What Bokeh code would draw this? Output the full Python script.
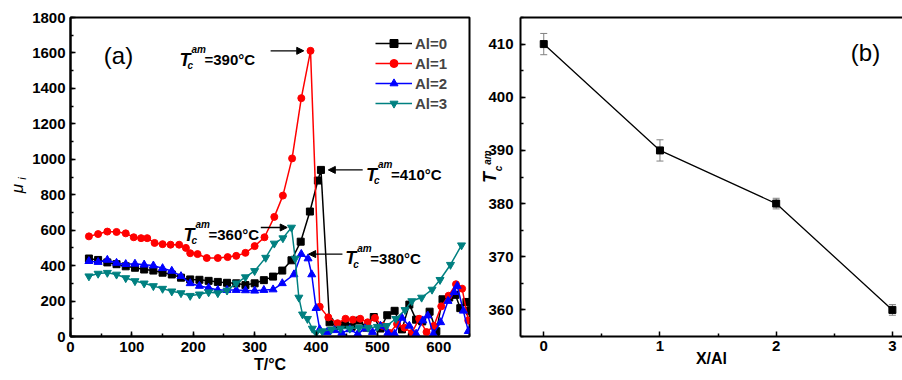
import numpy as np
from bokeh.plotting import figure
from bokeh.models import (Range1d, SingleIntervalTicker, FixedTicker, LinearAxis, Label,
                          Arrow, NormalHead, TeeHead, Whisker, ColumnDataSource, Legend, LegendItem)
from bokeh.layouts import row
from bokeh.embed import file_html
from bokeh.resources import INLINE

FONT = "Liberation Sans"

# ---------------- Panel (a): permeability vs temperature ----------------
t_al0 = [30, 45, 60, 75, 90, 105, 120, 135, 150, 165, 180, 195, 210, 225, 240, 255, 270, 285,
         300, 315, 330, 345, 360, 375, 390, 403, 408, 422, 435, 447, 458, 470, 482, 494, 505,
         516, 528, 540, 552, 563, 573, 585, 596, 606, 617, 627, 635, 645, 650]
mu_al0 = [440, 432, 418, 408, 396, 388, 378, 372, 360, 350, 332, 322, 320, 314, 308, 303, 300, 290,
          300, 318, 338, 372, 430, 535, 705, 880, 940, 80, 60, 65, 55, 90, 50, 110, 45,
          120, 145, 40, 180, 95, 85, 140, 30, 210, 220, 235, 160, 195, 145]

t_al1 = [30, 45, 60, 75, 90, 103, 115, 125, 137, 150, 163, 177, 188, 195, 207, 222, 240, 256,
         270, 285, 300, 316, 332, 346, 361, 376, 391, 406, 420, 435, 448, 460, 472, 484, 496,
         508, 520, 532, 544, 556, 568, 580, 592, 604, 616, 628, 638, 648]
mu_al1 = [565, 578, 592, 590, 582, 560, 555, 555, 528, 521, 518, 518, 500, 470, 465, 443, 443, 448,
          455, 472, 510, 560, 675, 795, 1005, 1345, 1612, 168, 108, 75, 100, 95, 100, 80, 105,
          60, 20, 70, 50, 20, 100, 25, 60, 170, 230, 295, 270, 90]

t_al2 = [30, 45, 60, 75, 90, 105, 120, 135, 150, 165, 180, 195, 210, 225, 240, 255, 270, 285,
         300, 315, 330, 345, 364, 376, 387, 393, 400, 406, 418, 430, 442, 455, 468, 480, 492,
         505, 517, 528, 540, 552, 563, 574, 582, 591, 603, 615, 625, 630, 640, 648]
mu_al2 = [425, 420, 432, 415, 408, 410, 405, 400, 385, 370, 340, 300, 285, 275, 262, 262, 262, 260,
          258, 262, 265, 300, 350, 465, 440, 350, 160, 40, 25, 35, 20, 40, 15, 45, 25,
          60, 20, 15, 105, 60, 15, 90, 118, 15, 80, 200, 250, 285, 145, 30]

t_al3 = [30, 45, 60, 75, 90, 105, 120, 135, 150, 165, 180, 195, 210, 225, 240, 255, 270, 285,
         300, 318, 332, 346, 360, 366, 372, 378, 386, 394, 400, 410, 425, 440, 455, 470, 485,
         500, 515, 530, 545, 556, 572, 589, 602, 619, 637]
mu_al3 = [340, 355, 360, 350, 330, 313, 300, 285, 270, 255, 245, 230, 238, 250, 245, 260, 300, 335,
          370, 445, 525, 555, 615, 440, 220, 125, 100, 45, 20, 30, 40, 45, 45, 50, 50,
          55, 60, 100, 150, 200, 220, 265, 320, 405, 515]

series_labels = ["Al=0", "Al=1", "Al=2", "Al=3"]
series_colors = ["#000000", "#ff0000", "#0000ff", "#008080"]
series_markers = ["square", "circle", "triangle", "inverted_triangle"]
series_sizes = [7, 7, 8, 8]
series_t = [t_al0, t_al1, t_al2, t_al3]
series_mu = [mu_al0, mu_al1, mu_al2, mu_al3]
tc_values = [410, 390, 380, 360]

# ---------------- Panel (b): Tc vs Al ----------------
x_al = [0, 1, 2, 3]
tc_am = [410, 390, 380, 360]
tc_err = [2, 2, 1, 1]


def style_axis(ax, standoff=3, size="15px"):
    ax.axis_line_width = 2
    ax.axis_line_color = "black"
    ax.major_tick_in = 5
    ax.major_tick_out = 0
    ax.minor_tick_in = 3
    ax.minor_tick_out = 0
    ax.major_tick_line_width = 1.5
    ax.minor_tick_line_width = 1.5
    ax.major_tick_line_color = "black"
    ax.minor_tick_line_color = "black"
    ax.major_label_text_font = FONT
    ax.major_label_text_font_style = "bold"
    ax.major_label_text_font_size = size
    ax.major_label_text_color = "black"
    ax.major_label_standoff = standoff
    ax.axis_label_text_font = FONT
    ax.axis_label_text_font_style = "bold"
    ax.axis_label_text_font_size = "16px"
    ax.axis_label_text_color = "black"


# ======== figure a ========
pa = figure(width=480, height=380, x_range=Range1d(0, 650), y_range=Range1d(0, 1800),
            output_backend="svg", toolbar_location=None,
            min_border_left=70, min_border_right=11, min_border_top=14, min_border_bottom=44)
pa.grid.visible = False
pa.outline_line_color = "black"
pa.outline_line_width = 2
pa.outline_line_alpha = 1
pa.background_fill_color = "white"
pa.border_fill_color = "white"
pa.xaxis.ticker = SingleIntervalTicker(interval=100, num_minor_ticks=2)
pa.yaxis.ticker = SingleIntervalTicker(interval=200, num_minor_ticks=2)
style_axis(pa.xaxis[0], standoff=5)
style_axis(pa.yaxis[0], standoff=5)
pa.xaxis.axis_label = "T/\u00b0C"
pa.xaxis.axis_label_standoff = 1

items = []
for lab, col, mk, sz, t, mu in zip(series_labels, series_colors, series_markers, series_sizes,
                                   series_t, series_mu):
    src = ColumnDataSource(dict(t=t, mu=mu))
    ln = pa.line("t", "mu", source=src, line_color=col, line_width=1.5)
    sc = pa.scatter("t", "mu", source=src, marker=mk, size=sz, fill_color=col, line_color=col)
    items.append(LegendItem(label=lab, renderers=[ln, sc]))

leg = Legend(items=items, location=(305, 223), padding=0, margin=0, spacing=0,
             glyph_width=37, glyph_height=20, label_height=20, label_standoff=3,
             label_text_font=FONT, label_text_font_style="bold", label_text_font_size="15px",
             background_fill_alpha=0, border_line_color=None)
pa.add_layout(leg)


def tc_annotation(p, x, y, dx, dy, temp):
    p.add_layout(Label(x=x, y=y, x_offset=dx, y_offset=-dy, text="T", text_font=FONT,
                       text_font_style="bold italic", text_font_size="18px",
                       text_baseline="alphabetic", text_color="black"))
    p.add_layout(Label(x=x, y=y, x_offset=dx + 8, y_offset=-(dy + 6), text="c", text_font=FONT,
                       text_font_style="bold italic", text_font_size="10px",
                       text_baseline="alphabetic", text_color="black"))
    p.add_layout(Label(x=x, y=y, x_offset=dx + 12, y_offset=-(dy - 10), text="am", text_font=FONT,
                       text_font_style="bold italic", text_font_size="10px",
                       text_baseline="alphabetic", text_color="black"))
    p.add_layout(Label(x=x, y=y, x_offset=dx + 25, y_offset=-dy, text=f"={temp}\u00b0C",
                       text_font=FONT, text_font_style="bold", text_font_size="15px",
                       text_baseline="alphabetic", text_color="black"))


def peak(t, mu):
    i = int(np.argmax(mu))
    return t[i], mu[i]


def arrow(p, x0, x1, y):
    p.add_layout(Arrow(end=NormalHead(size=7, fill_color="black", line_color="black"),
                       x_start=x0, x_end=x1, y_start=y, y_end=y,
                       line_color="black", line_width=1.3))


px, py = peak(t_al1, mu_al1)
arrow(pa, px - 65, px - 11, py)
tc_annotation(pa, px, py, -131, 9, tc_values[1])
px, py = peak(t_al0, mu_al0)
arrow(pa, px + 68, px + 12, py)
tc_annotation(pa, px, py, 45, 5, tc_values[0])
px, py = peak(t_al3, mu_al3)
arrow(pa, px - 50, px - 7, py)
tc_annotation(pa, px, py, -108, 7, tc_values[3])
px, py = peak(t_al2, mu_al2)
arrow(pa, px + 67, px + 12, py)
tc_annotation(pa, px, py, 44, 4, tc_values[2])

pa.add_layout(Label(x=48, y=281, x_units="screen", y_units="screen", text="(a)",
                    text_font=FONT, text_font_size="24px", text_align="center",
                    text_baseline="middle", text_color="black"))

# ======== figure b ========
pb = figure(width=422, height=380, x_range=Range1d(-0.2, 3.087), y_range=Range1d(355, 415),
            output_backend="svg", toolbar_location=None,
            min_border_left=40, min_border_right=0, min_border_top=17, min_border_bottom=41)
pb.grid.visible = False
pb.outline_line_color = None
pb.background_fill_color = "white"
pb.border_fill_color = "white"
pb.xaxis.ticker = FixedTicker(ticks=x_al, minor_ticks=[0.5, 1.5, 2.5])
pb.yaxis.ticker = SingleIntervalTicker(interval=10, num_minor_ticks=2)
style_axis(pb.xaxis[0], standoff=4)
style_axis(pb.yaxis[0], standoff=7)
pb.xaxis.axis_label = "X/Al"
pb.xaxis.axis_label_standoff = -4

top_ax = LinearAxis(ticker=FixedTicker(ticks=[]), axis_line_width=2, axis_line_color="black",
                    major_tick_in=0, major_tick_out=0, minor_tick_in=0, minor_tick_out=0,
                    major_label_standoff=0)
pb.add_layout(top_ax, "above")

srcb = ColumnDataSource(dict(x=x_al, y=tc_am,
                             lo=[v - e for v, e in zip(tc_am, tc_err)],
                             hi=[v + e for v, e in zip(tc_am, tc_err)]))
pb.add_layout(Whisker(source=srcb, base="x", lower="lo", upper="hi",
                      line_color="#808080", line_width=1,
                      lower_head=TeeHead(size=7, line_color="#808080", line_width=1),
                      upper_head=TeeHead(size=7, line_color="#808080", line_width=1)))
pb.line("x", "y", source=srcb, line_color="black", line_width=1.3)
pb.scatter("x", "y", source=srcb, marker="square", size=7, fill_color="black", line_color="black")

pb.add_layout(Label(x=345, y=284, x_units="screen", y_units="screen", text="(b)",
                    text_font=FONT, text_font_size="24px", text_align="center",
                    text_baseline="middle", text_color="black"))

# ======== transparent overlay for the rotated y-axis titles ========
BASE = 336  # overlay frame bottom (aligned with panel a frame)
ov = figure(width=902, height=380, x_range=Range1d(0, 902), y_range=Range1d(0, 380),
            output_backend="svg", toolbar_location=None, x_axis_type=None, y_axis_type=None,
            min_border=0, min_border_left=0, min_border_right=0, min_border_top=0,
            min_border_bottom=0, margin=(0, 0, 0, -902))
ov.grid.visible = False
ov.outline_line_color = None
ov.background_fill_alpha = 0
ov.border_fill_alpha = 0


def ov_text(x, y, text, size, style="bold", angle=0.0):
    ov.add_layout(Label(x=x, y=BASE - y, x_units="screen", y_units="screen", text=text,
                        text_font=FONT, text_font_style=style, text_font_size=size,
                        text_align="center", text_baseline="middle", angle=angle,
                        text_color="black"))


# mu_i (rotated)
ov_text(17, 188, "\u03bc", "17px", style="italic", angle=np.pi / 2)
ov_text(21, 178, "i", "11px", style="italic", angle=np.pi / 2)
# T_c^am (rotated)
ov_text(489, 177, "T", "18px", style="bold italic", angle=np.pi / 2)
ov_text(498, 168, "c", "10px", style="bold italic", angle=np.pi / 2)
ov_text(487, 157, "am", "10px", style="bold italic", angle=np.pi / 2)

layout = row(pa, pb, ov)
open("out.html", "w").write(file_html(layout, INLINE))
